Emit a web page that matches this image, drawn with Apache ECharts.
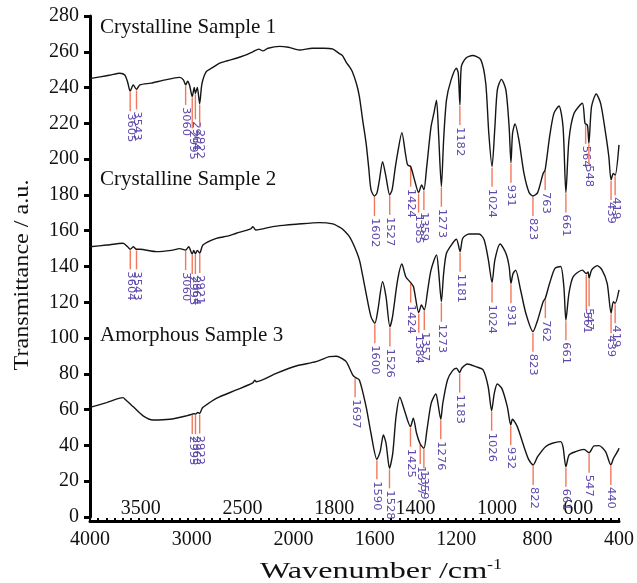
<!DOCTYPE html>
<html><head><meta charset="utf-8">
<script src="https://cdn.jsdelivr.net/npm/echarts@6/dist/echarts.min.js"></script>
<style>html,body{margin:0;padding:0;background:#fff}#c{width:637px;height:583px}</style>
</head><body><div id="c"></div><script>
// ---------- DATA: [wavenumber (cm-1), transmittance (a.u.)] ----------
const sample1 = [[4000,245],[3900,246],[3800,247],[3707,248],[3658,247],[3630,243],[3605,238],[3575,241.5],[3543,239],[3510,241.5],[3400,242.5],[3285,244],[3200,245],[3118,245.7],[3082,244.3],[3060,241.5],[3040,243.5],[3020,241],[2995,235],[2975,240],[2964,236.8],[2945,240],[2922,231],[2900,242],[2856,249],[2800,251],[2726,253.6],[2650,255],[2562,256.4],[2480,258],[2400,260],[2340,261.5],[2300,260.5],[2250,262],[2137,263],[2050,262.5],[1970,261],[1907,262],[1850,262],[1809,261.6],[1774,259],[1760,258],[1740,254],[1725,251.7],[1711,249],[1690,242],[1676,235],[1660,222],[1643,209],[1630,195],[1619,183],[1602,179.4],[1590,181],[1578,188],[1562,198.6],[1545,190],[1527,180],[1515,183],[1500,195],[1488,203.4],[1467,214.8],[1450,203.4],[1439,196.8],[1424,195.8],[1405,188.4],[1385,181.3],[1370,185.6],[1359,182.8],[1345,195.8],[1324,218],[1310,225.6],[1297,233],[1287,214.6],[1273,184.6],[1262,210.7],[1248,233],[1226,244],[1199,250.8],[1190,248],[1182,230.3],[1175,251.7],[1153,256.4],[1120,257.9],[1079,255.5],[1055,242.4],[1040,214.5],[1024,195.8],[1010,218],[998,238.7],[978,244.6],[956,238.7],[940,218],[931,198],[923,214.6],[911,219.7],[892,210.7],[867,192],[842,181.3],[823,179.4],[800,181.3],[773,192],[763,194],[741,212.6],[720,225.6],[695,229.7],[675,218],[661,181.3],[646,210.7],[621,225.6],[580,231.2],[567,220],[555,219],[548,208.9],[535,229.3],[512,236.4],[490,231],[466,214.5],[450,201.4],[439,188.4],[428,192],[419,191],[400,208]];
const sample2 = [[4000,151],[3837,152],[3675,153],[3630,151],[3604,149.6],[3575,151],[3543,149.6],[3510,149.6],[3347,148.3],[3200,149],[3118,150],[3060,149.2],[3030,151],[2995,147],[2980,149],[2964,147],[2945,149],[2921,147.5],[2890,152],[2758,155.7],[2650,157],[2562,158.6],[2420,161],[2399,162.3],[2370,160.4],[2203,162.3],[2100,163],[1987,163.6],[1872,164.5],[1807,163.8],[1774,162],[1758,160.8],[1725,156.7],[1700,151],[1676,143.7],[1660,135],[1643,125],[1619,112],[1600,108.3],[1585,115.7],[1562,131.5],[1545,123],[1526,106.4],[1513,112],[1488,132.5],[1467,141.4],[1448,134.3],[1424,131],[1410,128.7],[1384,114.2],[1371,118.5],[1357,115.7],[1340,127],[1324,138],[1297,146.5],[1287,138],[1273,120.3],[1262,136],[1248,147.4],[1218,153],[1199,155.2],[1181,148.3],[1168,155.8],[1137,158.2],[1088,158.2],[1063,155],[1042,143.7],[1024,131],[1010,143.7],[984,152.6],[956,147.4],[940,140],[931,130.6],[921,136],[908,138],[884,127],[858,113.9],[823,103.6],[800,110],[773,120.3],[762,122.3],[741,130.6],[715,139],[687,140],[671,128.7],[661,110],[646,125],[625,134.3],[580,138],[561,136],[552,137],[547,133.4],[535,138],[507,140.5],[483,138],[458,130.6],[439,113.9],[428,120.3],[419,119.4],[400,126.9]];
const sample3 = [[4000,61.3],[3837,63.9],[3675,66.7],[3650,65.5],[3577,61.7],[3478,56.5],[3380,54.2],[3216,54.6],[3053,56.5],[2995,57.5],[2975,57.8],[2963,57.5],[2940,58.5],[2922,57.8],[2900,60.5],[2890,61.3],[2758,66.3],[2562,71],[2400,75],[2380,76.5],[2366,75.6],[2170,80.3],[1987,84.4],[1889,86.8],[1823,89.6],[1790,89.8],[1774,89.3],[1741,86.8],[1709,79.4],[1697,78.1],[1676,76.6],[1643,61.7],[1619,46.8],[1590,32.3],[1574,36.5],[1558,45.8],[1545,41.2],[1528,27.2],[1512,35.6],[1496,56],[1477,66.9],[1455,59.8],[1425,50.5],[1411,55.2],[1395,46.8],[1377,40.8],[1359,38.4],[1344,48.6],[1323,63.6],[1300,68.8],[1290,63.6],[1276,54.6],[1266,63.6],[1243,76.6],[1218,81.8],[1199,83.1],[1183,80.7],[1173,83.1],[1145,85.5],[1104,84],[1068,82.2],[1043,72.8],[1026,59.4],[1013,69.1],[998,74.3],[976,71.9],[949,61.7],[932,51.4],[924,54.6],[900,50.5],[867,39.3],[843,31.9],[822,29.1],[800,33.7],[761,39.3],[728,41.2],[687,42.1],[675,39],[661,28.1],[645,34.7],[613,36.5],[572,37.8],[547,35.9],[523,39.7],[498,39.9],[466,36.5],[440,29.1],[427,32.8],[403,37.5],[400,38.5]];

const peaks1 = [3605,3543,3060,2995,2964,2922,1602,1527,1424,1385,1359,1273,1182,1024,931,823,763,661,564,548,439,419];
const peaks2 = [3604,3543,3060,2995,2964,2921,1600,1526,1424,1384,1357,1273,1181,1024,931,823,762,661,561,547,439,419];
const peaks3 = [2995,2963,2922,1697,1590,1528,1425,1377,1359,1276,1183,1026,932,822,661,547,440];

const sampleNames = ['Crystalline Sample 1','Crystalline Sample 2','Amorphous Sample 3'];
const outerTickLabels = [4000,3000,2000,1600,1200,800,400];
const innerTickLabels = [3500,2500,1800,1400,1000,600];
const yMin = 0, yMax = 280, yStep = 20;

// ---------- axis transform: region above 2000 cm-1 compressed 2x ----------
const toU = wn => wn <= 2000 ? wn : 2000 + (wn - 2000) / 2;
const fromU = u => Math.round(u <= 2000 ? u : 2000 + (u - 2000) * 2);

function interp(data, wn) {
  for (let i = 0; i < data.length - 1; i++) {
    const [w0, t0] = data[i], [w1, t1] = data[i + 1];
    if (wn <= w0 && wn >= w1) { const f = (w0 - wn) / ((w0 - w1) || 1); return t0 + (t1 - t0) * f; }
  }
  return data[data.length - 1][1];
}

// style: extra drop of some staggered peak labels (px)
const drops = {'1:2995':12,'1:2964':6,'1:2922':4,'2:561':16,'2:547':8};

const minorTicks = [];
for (let u = 400; u <= 3000; u += 40) minorTicks.push(u);

const serif = '"Liberation Serif","Times New Roman",serif';

function lineSeries(data) {
  return {type:'line', data:data.map(d => [toU(d[0]), d[1]]), showSymbol:false, smooth:0.25,
    lineStyle:{color:'#151515', width:1.4}, z:3, silent:true};
}
function markerSeries(data, peaks, key) {
  return {
    type:'custom', z:2, silent:true,
    data: peaks.map(w => [toU(w), interp(data, w), w, drops[key + ':' + w] || 0]),
    renderItem(params, api) {
      const p = api.coord([api.value(0), api.value(1)]);
      const len = 20 + api.value(3);
      return {type:'group', children:[
        {type:'line', shape:{x1:p[0], y1:p[1] + 1, x2:p[0], y2:p[1] + len},
          style:{stroke:'#f2785c', lineWidth:1.4}},
        {type:'text', x:p[0], y:p[1] + len + 2, rotation:-Math.PI / 2, scaleX:1.15,
          style:{text:String(api.value(2)), fill:'#5f49ab', font:'10px "DejaVu Sans", sans-serif',
            align:'left', verticalAlign:'middle'}}
      ]};
    }
  };
}

const chart = echarts.init(document.getElementById('c'), null, {renderer:'canvas'});
const option = {
  animation:false,
  backgroundColor:'#fff',
  grid:{left:90, right:17, top:16, bottom:66},
  xAxis:[{
    type:'value', min:toU(400), max:toU(4000), inverse:true, position:'bottom', offset:4,
    axisLine:{show:true, onZero:false, lineStyle:{color:'#000', width:3}},
    axisTick:{show:false},
    axisLabel:{customValues:outerTickLabels.map(toU), formatter:v => String(fromU(v)),
      fontFamily:serif, fontSize:20, color:'#111', margin:9},
    splitLine:{show:false}
  },{
    type:'value', min:toU(400), max:toU(4000), inverse:true, position:'bottom', offset:4,
    axisLine:{show:false, onZero:false},
    axisTick:{show:true, inside:true, length:3, customValues:minorTicks, lineStyle:{color:'#000', width:2}},
    axisLabel:{inside:true, customValues:innerTickLabels.map(toU), formatter:v => String(fromU(v)),
      fontFamily:serif, fontSize:20, color:'#111', margin:2},
    splitLine:{show:false}
  }],
  yAxis:{
    type:'value', min:yMin, max:yMax, interval:yStep,
    axisLine:{show:true, lineStyle:{color:'#000', width:3}},
    axisTick:{show:true, length:6, lineStyle:{color:'#000', width:3}},
    axisLabel:{fontFamily:serif, fontSize:20, color:'#111', margin:11},
    splitLine:{show:false}
  },
  graphic:[
    {type:'text', left:100, top:17, style:{text:sampleNames[0], font:'21px ' + serif, fill:'#111'}},
    {type:'text', left:100, top:169, style:{text:sampleNames[1], font:'21px ' + serif, fill:'#111'}},
    {type:'text', left:100, top:325, style:{text:sampleNames[2], font:'21px ' + serif, fill:'#111'}},
    {type:'text', x:260, y:572, scaleX:1.4,
      style:{text:'Wavenumber /cm', font:'23px ' + serif, fill:'#111', align:'left', verticalAlign:'middle'}},
    {type:'text', x:487, y:565, scaleX:1.2,
      style:{text:'-1', font:'15px ' + serif, fill:'#111', align:'left', verticalAlign:'middle'}},
    {type:'text', x:22, y:275, rotation:Math.PI / 2, scaleX:1.15,
      style:{text:'Transmittance / a.u.', font:'21px ' + serif, fill:'#111', align:'center', verticalAlign:'middle'}}
  ],
  series:[
    markerSeries(sample1, peaks1, '1'),
    markerSeries(sample2, peaks2, '2'),
    markerSeries(sample3, peaks3, '3'),
    lineSeries(sample1), lineSeries(sample2), lineSeries(sample3)
  ]
};
chart.setOption(option);
</script></body></html>
